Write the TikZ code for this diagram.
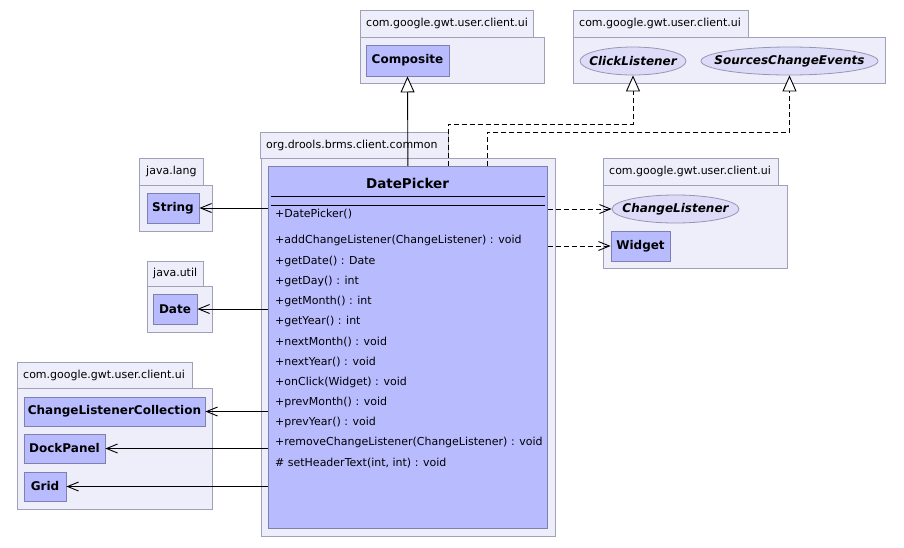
\documentclass[tikz,border=0pt]{standalone}
\usepackage{fontspec}
\setmainfont{DejaVu Sans}
\usetikzlibrary{arrows.meta,shapes.geometric}
\definecolor{pkgfill}{RGB}{238,238,251}
\definecolor{pkgdraw}{RGB}{160,160,184}
\definecolor{clsfill}{RGB}{185,187,255}
\definecolor{clsdraw}{RGB}{128,128,176}
\definecolor{ellfill}{RGB}{220,220,248}
\definecolor{elldraw}{RGB}{150,150,180}
\begin{document}
\begin{tikzpicture}[x=1pt,y=-1pt,
  pkgbox/.style={draw=pkgdraw, fill=pkgfill, line width=0.8pt, inner sep=0pt, anchor=north west},
  pkglabel/.style={anchor=west, inner sep=0pt, font=\fontsize{11}{13}\selectfont},
  cls/.style={draw=clsdraw, fill=clsfill, line width=0.8pt, inner sep=0pt, font=\fontsize{12}{14}\selectfont\bfseries},
  iface/.style={ellipse, draw=elldraw, fill=ellfill, line width=0.8pt, inner sep=0pt, minimum height=28pt},
  ifacename/.style={inner sep=0pt, font=\fontsize{12}{14}\selectfont\bfseries\itshape},
  member/.style={anchor=west, inner sep=0pt, font=\fontsize{11}{13}\selectfont},
  gen/.style={line width=0.9pt, -{Triangle[length=16pt,width=14pt,fill=white]}},
  real/.style={gen, dash pattern=on 5pt off 3pt},
  assoc/.style={line width=0.9pt, -{Straight Barb[length=11pt,width=9pt]}},
  dep/.style={assoc, dash pattern=on 5pt off 3pt}]
\useasboundingbox (0,0) rectangle (904,547);
\fill[white] (0,0) rectangle (904,547);

% package: com.google.gwt.user.client.ui (Composite)
\node[pkgbox, minimum width=184pt, minimum height=46pt] (p1b) at (360,37) {};
\node[pkgbox, minimum width=173pt, minimum height=27pt] (p1t) at (360,10) {};
\node[pkglabel] (p1l) at (366,23.5) {com.google.gwt.user.client.ui};
\node[cls, minimum width=83pt, minimum height=31pt] (comp) at (407.5,60.5) {Composite};

% package: com.google.gwt.user.client.ui (interfaces)
\node[pkgbox, minimum width=312pt, minimum height=46pt] (p2b) at (573,37) {};
\node[pkgbox, minimum width=175pt, minimum height=27pt] (p2t) at (573,10) {};
\node[pkglabel] (p2l) at (579,23.5) {com.google.gwt.user.client.ui};
\node[iface, minimum width=106pt] (click) at (633,61) {};
\node[ifacename] (clickt) at (click.center) {ClickListener};
\node[iface, minimum width=177pt] (sce) at (789.5,61) {};
\node[ifacename] (scet) at (sce.center) {SourcesChangeEvents};

% package: org.drools.brms.client.common
\node[pkgbox, minimum width=294pt, minimum height=378pt] (p3b) at (261,158) {};
\node[pkgbox, minimum width=188pt, minimum height=26pt] (p3t) at (260,132) {};
\node[pkglabel] (p3l) at (266,145) {org.drools.brms.client.common};
\node[cls, minimum width=279pt, minimum height=362pt, anchor=north west] (dp) at (268,166) {};
\node[inner sep=0pt, font=\fontsize{13.5}{16}\selectfont\bfseries] (dpt) at (407.5,183) {DatePicker};
\draw[line width=0.9pt] (271,196) -- (545,196);
\draw[line width=0.9pt] (271,205) -- (545,205);
\node[member] (m1) at (275,214) {+DatePicker()};
\node[member] (m2) at (275,240) {+addChangeListener(ChangeListener) : void};
\node[member] (m3) at (275,261) {+getDate() : Date};
\node[member] (m4) at (275,281) {+getDay() : int};
\node[member] (m5) at (275,301) {+getMonth() : int};
\node[member] (m6) at (275,321) {+getYear() : int};
\node[member] (m7) at (275,342) {+nextMonth() : void};
\node[member] (m8) at (275,362) {+nextYear() : void};
\node[member] (m9) at (275,382) {+onClick(Widget) : void};
\node[member] (m10) at (275,402) {+prevMonth() : void};
\node[member] (m11) at (275,422) {+prevYear() : void};
\node[member] (m12) at (275,442) {+removeChangeListener(ChangeListener) : void};
\node[member] (m13) at (275,463) {\# setHeaderText(int, int) : void};

% package: java.lang
\node[pkgbox, minimum width=73pt, minimum height=46pt] (p4b) at (139,185) {};
\node[pkgbox, minimum width=64pt, minimum height=27pt] (p4t) at (139,158) {};
\node[pkglabel] (p4l) at (146,171.5) {java.lang};
\node[cls, minimum width=52pt, minimum height=30pt] (str) at (173,208) {String};

% package: java.util
\node[pkgbox, minimum width=65pt, minimum height=46pt] (p5b) at (147,286) {};
\node[pkgbox, minimum width=56pt, minimum height=25pt] (p5t) at (147,261) {};
\node[pkglabel] (p5l) at (153,273.5) {java.util};
\node[cls, minimum width=44pt, minimum height=30pt] (date) at (175,309) {Date};

% package: com.google.gwt.user.client.ui (bottom left)
\node[pkgbox, minimum width=195pt, minimum height=121pt] (p6b) at (17,388) {};
\node[pkgbox, minimum width=175pt, minimum height=26pt] (p6t) at (17,362) {};
\node[pkglabel] (p6l) at (23,375) {com.google.gwt.user.client.ui};
\node[cls, minimum width=181pt, minimum height=29pt] (clc) at (114.5,411.5) {ChangeListenerCollection};
\node[cls, minimum width=81pt, minimum height=29pt] (dock) at (64.5,448.5) {DockPanel};
\node[cls, minimum width=42pt, minimum height=29pt] (grid) at (45,486.5) {Grid};

% package: com.google.gwt.user.client.ui (right)
\node[pkgbox, minimum width=184pt, minimum height=83pt] (p7b) at (603,185) {};
\node[pkgbox, minimum width=175pt, minimum height=27pt] (p7t) at (603,158) {};
\node[pkglabel] (p7l) at (609,171.5) {com.google.gwt.user.client.ui};
\node[iface, minimum width=127pt] (cl) at (675.5,209) {};
\node[ifacename] (clt) at (cl.center) {ChangeListener};
\node[cls, minimum width=59pt, minimum height=30pt] (wid) at (640.5,246) {Widget};

% connectors
\draw[gen] (dp.north) -- (comp.south);
\coordinate (k1) at (448,124);
\coordinate (k2) at (487,132);
\draw[real] (dp.north -| k1) -- (k1) -| (click.south);
\draw[real] (dp.north -| k2) -- (k2) -| (sce.south);
\draw[dep] (dp.east |- cl.west) -- (cl.west);
\draw[dep] (dp.east |- wid.west) -- (wid.west);
\draw[assoc] (dp.west |- str.east) -- (str.east);
\draw[assoc] (dp.west |- date.east) -- (date.east);
\draw[assoc] (dp.west |- clc.east) -- (clc.east);
\draw[assoc] (dp.west |- dock.east) -- (dock.east);
\draw[assoc] (dp.west |- grid.east) -- (grid.east);
\end{tikzpicture}
\end{document}
